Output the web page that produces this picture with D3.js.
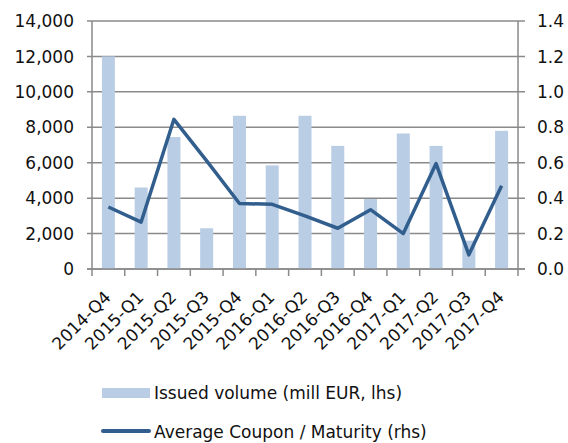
<!DOCTYPE html>
<meta charset="utf-8">
<head>
    <style>
     body { margin: 0; background: #fff; }
     text { font-family: "DejaVu Sans", Verdana, sans-serif; fill: #111; }
    </style>
</head>
<body>
</body>
<script src="https://d3js.org/d3.v7.min.js"></script>
<script>
 // quarters along the x axis
 const quarters = ["2014-Q4", "2015-Q1", "2015-Q2", "2015-Q3", "2015-Q4", "2016-Q1", "2016-Q2",
                   "2016-Q3", "2016-Q4", "2017-Q1", "2017-Q2", "2017-Q3", "2017-Q4"];
 // issued volume, mill EUR (lhs)
 const volume = [12000, 4600, 7450, 2300, 8650, 5850, 8650, 6950, 3950, 7650, 6950, 1600, 7800];
 // average coupon / maturity (rhs)
 const couponMaturity = [0.35, 0.265, 0.845, 0.61, 0.37, 0.365, 0.30, 0.23, 0.335, 0.20, 0.595, 0.08, 0.47];
 const leftTicks = [0, 2000, 4000, 6000, 8000, 10000, 12000, 14000];
 const rightTicks = [0, 0.2, 0.4, 0.6, 0.8, 1.0, 1.2, 1.4];
 const legendLabels = ["Issued volume (mill EUR, lhs)", "Average Coupon / Maturity (rhs)"];

 const width = 568, height = 443;
 const plotL = 92, plotR = 518, plotT = 21, plotB = 269;
 const barColor = "#b9cde5", lineColor = "#325e8e", gridColor = "#8a8a8a";

 const svg = d3.select("body").append("svg")
               .attr("width", width)
               .attr("height", height);

 const xc = d3.scalePoint().domain(quarters).range([plotL, plotR]).padding(0.5);
 const yL = d3.scaleLinear().domain([0, 14000]).range([plotB, plotT]);
 const yR = d3.scaleLinear().domain([0, 1.4]).range([plotB, plotT]);

 // gridlines
 svg.append("g")
    .selectAll("line")
    .data(leftTicks)
    .join("line")
    .attr("x1", plotL - 5)
    .attr("x2", plotR + 7)
    .attr("y1", d => yL(d))
    .attr("y2", d => yL(d))
    .attr("stroke", gridColor)
    .attr("stroke-width", 1.5);

 // bars
 svg.append("g")
    .attr("fill", barColor)
    .selectAll("rect")
    .data(volume)
    .join("rect")
    .attr("x", (d, i) => xc(quarters[i]) - 6.5)
    .attr("width", 13)
    .attr("y", d => yL(d))
    .attr("height", d => plotB - yL(d));

 // axis lines
 const axes = svg.append("g").attr("stroke", gridColor).attr("stroke-width", 1.5);
 axes.append("line").attr("x1", plotL).attr("x2", plotL).attr("y1", plotT).attr("y2", plotB);
 axes.append("line").attr("x1", plotR).attr("x2", plotR).attr("y1", plotT).attr("y2", plotB);
 axes.append("line").attr("x1", plotL - 5).attr("x2", plotR + 7).attr("y1", plotB).attr("y2", plotB);

 // x ticks at category boundaries
 const step = (plotR - plotL) / quarters.length;
 axes.selectAll("line.xt")
     .data(d3.range(quarters.length + 1))
     .join("line")
     .attr("class", "xt")
     .attr("x1", i => plotL + i * step)
     .attr("x2", i => plotL + i * step)
     .attr("y1", plotB)
     .attr("y2", plotB + 7);

 // line series
 const line = d3.line()
                .x((d, i) => xc(quarters[i]))
                .y(d => yR(d));
 svg.append("path")
    .datum(couponMaturity)
    .attr("fill", "none")
    .attr("stroke", lineColor)
    .attr("stroke-width", 3.5)
    .attr("stroke-linejoin", "round")
    .attr("d", line);

 // left tick labels
 const fmt = d3.format(",");
 svg.append("g")
    .selectAll("text")
    .data(leftTicks)
    .join("text")
    .attr("x", 74)
    .attr("y", d => yL(d))
    .attr("dy", "0.36em")
    .attr("text-anchor", "end")
    .style("font-size", "17px")
    .text(d => fmt(d));

 // right tick labels
 svg.append("g")
    .selectAll("text")
    .data(rightTicks)
    .join("text")
    .attr("x", 537)
    .attr("y", d => yR(d))
    .attr("dy", "0.36em")
    .style("font-size", "17px")
    .text(d => d.toFixed(1));

 // category labels, rotated
 svg.append("g")
    .selectAll("text")
    .data(quarters)
    .join("text")
    .attr("transform", d => `translate(${xc(d) - 5}, ${plotB + 21}) rotate(-45)`)
    .attr("text-anchor", "end")
    .attr("dy", "0.7em")
    .style("font-size", "17px")
    .text(d => d);

 // legend
 const lg = svg.append("g");
 lg.append("rect")
   .attr("x", 102).attr("y", 388).attr("width", 48).attr("height", 10)
   .attr("fill", barColor);
 lg.append("line")
   .attr("x1", 103).attr("x2", 149).attr("y1", 431).attr("y2", 431)
   .attr("stroke", lineColor).attr("stroke-width", 4).attr("stroke-linecap", "round");
 lg.selectAll("text")
   .data(legendLabels)
   .join("text")
   .attr("x", 154)
   .attr("y", (d, i) => 399 + i * 39)
   .style("font-size", "17px")
   .text(d => d);
</script>
